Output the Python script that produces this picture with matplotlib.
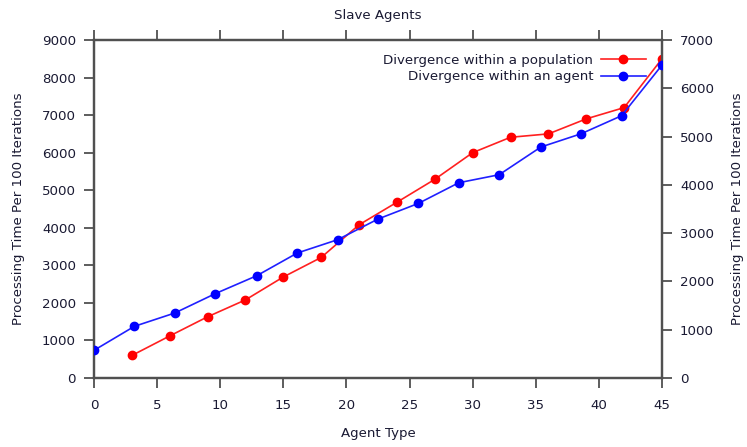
import matplotlib
matplotlib.use('Agg')
import matplotlib.pyplot as plt
from matplotlib.lines import Line2D

# data
pop_x = [3, 6, 9, 12, 15, 18, 21, 24, 27, 30, 33, 36, 39, 42, 45]
pop_y = [600, 1120, 1630, 2080, 2690, 3210, 4080, 4680, 5290, 6000, 6410, 6500, 6900, 7200, 8500]

agent_x = [0, 3.2, 6.4, 9.6, 12.9, 16.1, 19.3, 22.5, 25.7, 28.9, 32.1, 35.4, 38.6, 41.8, 45]
agent_y = [573, 1070, 1346, 1746, 2119, 2588, 2864, 3292, 3616, 4044, 4210, 4783, 5059, 5432, 6481]

x_ticks = [0, 5, 10, 15, 20, 25, 30, 35, 40, 45]
left_ticks = [0, 1000, 2000, 3000, 4000, 5000, 6000, 7000, 8000, 9000]
right_ticks = [0, 1000, 2000, 3000, 4000, 5000, 6000, 7000]

txt = '#1a1a33'
spine = '#505050'
fs = 9.6
plt.rcParams['font.family'] = ['DejaVu Sans']
plt.rcParams['font.size'] = fs

W, H = 747, 447
fig = plt.figure(figsize=(W / 100, H / 100), dpi=100)
ax = fig.add_axes([94 / W, (H - 378) / H, 568 / W, 338 / H])
ax2 = ax.twinx()

ax.plot(pop_x, pop_y, color='#ff2020', lw=1.2, marker='o', ms=6, mfc='#ff0000', mec='#ff0000', zorder=3)
ax2.plot(agent_x, agent_y, color='#2020ff', lw=1.2, marker='o', ms=6, mfc='#0000ff', mec='#0000ff', zorder=3)

ax.set_xlim(0, 45)
ax.set_ylim(0, 9000)
ax2.set_ylim(0, 7000)
ax.set_xticks(x_ticks)
ax.set_yticks(left_ticks)
ax2.set_yticks(right_ticks)

for a in (ax, ax2):
    for s in a.spines.values():
        s.set_color(spine)
        s.set_linewidth(1.6)
    a.tick_params(direction='out', length=7, width=1.3, color=spine,
                  labelcolor=txt, labelsize=fs, pad=6)
ax.tick_params(axis='x', top=True, pad=8)

ax.set_title('Slave Agents', fontsize=fs, color=txt, pad=15)
ax.set_xlabel('Agent Type', fontsize=fs, color=txt, labelpad=11)
ax.set_ylabel('Processing Time Per 100 Iterations', fontsize=fs, color=txt, labelpad=12)
ax2.set_ylabel('Processing Time Per 100 Iterations', fontsize=fs, color=txt, labelpad=12)

handles = [Line2D([], [], color='#ff2020', lw=1.2, marker='o', ms=6, mfc='#ff0000', mec='#ff0000'),
           Line2D([], [], color='#2020ff', lw=1.2, marker='o', ms=6, mfc='#0000ff', mec='#0000ff')]
labels = ['Divergence within a population', 'Divergence within an agent']
leg = ax2.legend(handles, labels, loc='upper right', frameon=False, markerfirst=False,
                 handlelength=3.4, handletextpad=0.55, labelspacing=0.25,
                 bbox_to_anchor=(658 / W, (H - 42) / H), bbox_transform=fig.transFigure,
                 fontsize=fs)
for t in leg.get_texts():
    t.set_color(txt)
    t.set_ha('right')

fig.savefig('out.png', dpi=100)
